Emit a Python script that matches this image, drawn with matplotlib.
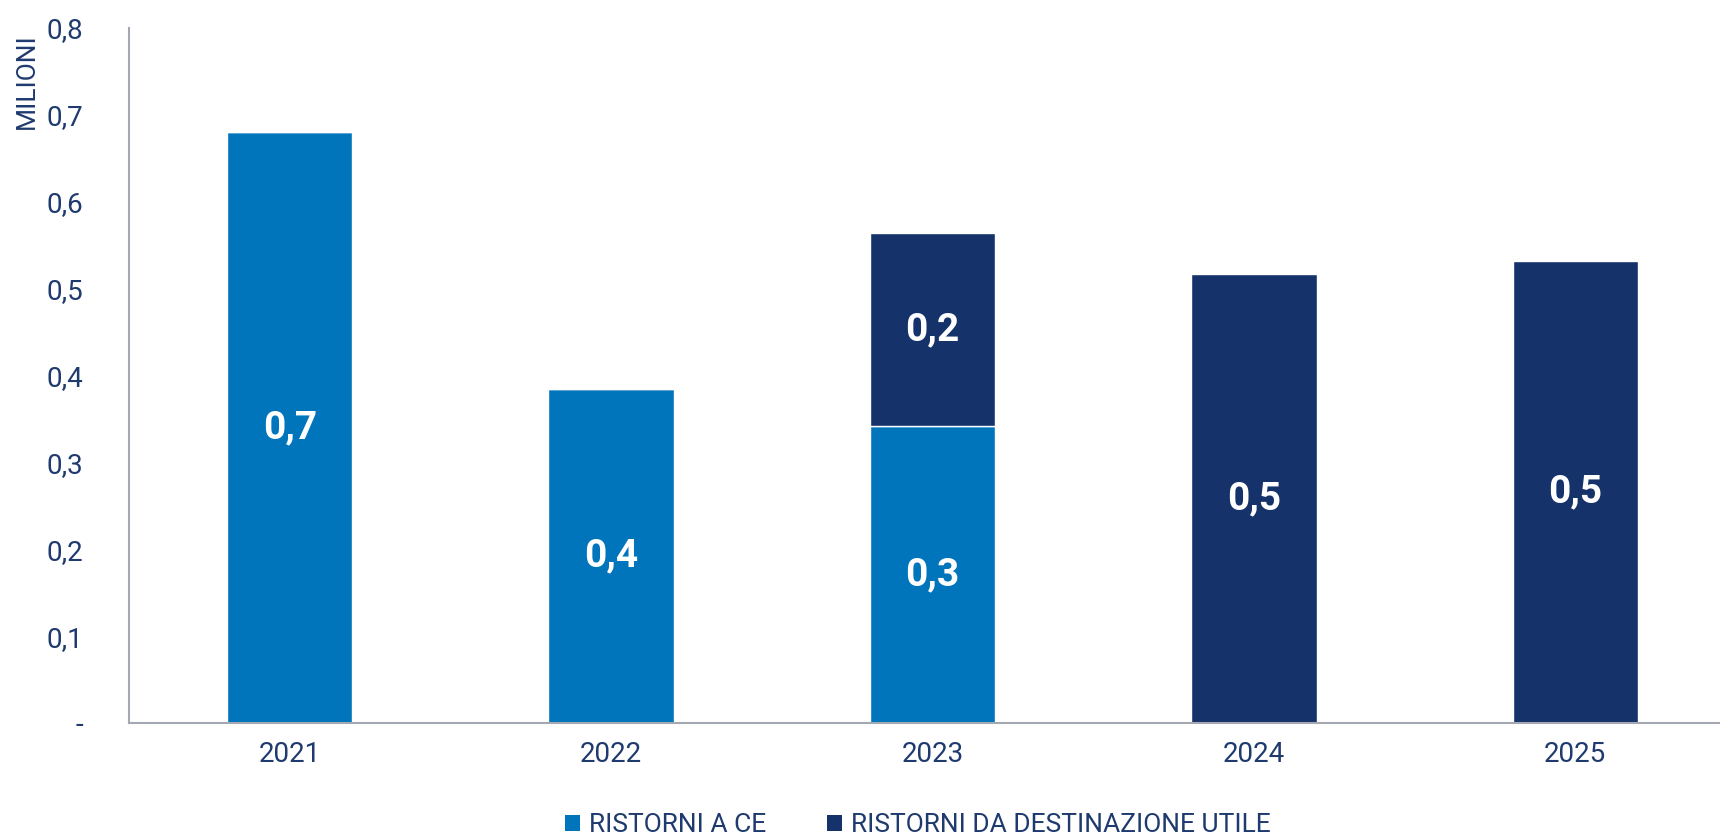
import matplotlib
matplotlib.use("Agg")
import matplotlib.pyplot as plt
from matplotlib.patches import Patch

years = ["2021", "2022", "2023", "2024", "2025"]
ristorni_ce = [0.680, 0.384, 0.342, 0.0, 0.0]
ristorni_utile = [0.0, 0.0, 0.222, 0.517, 0.532]
yticks = [0, 0.1, 0.2, 0.3, 0.4, 0.5, 0.6, 0.7, 0.8]
ytick_labels = ["-", "0,1", "0,2", "0,3", "0,4", "0,5", "0,6", "0,7", "0,8"]
series_names = ["RISTORNI A CE", "RISTORNI DA DESTINAZIONE UTILE"]

c_light = "#0075BC"
c_dark = "#15326A"
c_text = "#1F3A6E"
c_axis = "#A3A8B2"

plt.rcParams['font.family'] = ['Roboto', 'DejaVu Sans']

W, H = 1720, 839
fig = plt.figure(figsize=(W / 100, H / 100), dpi=100)
ax = fig.add_axes([129 / W, 1 - 723 / H, (1736 - 129) / W, (723 - 28) / H])

x = list(range(len(years)))
bw = 0.39
ax.bar(x, ristorni_ce, bw, color=c_light, edgecolor="white", linewidth=1.0)
ax.bar(x, ristorni_utile, bw, bottom=ristorni_ce, color=c_dark, edgecolor="white", linewidth=1.0)


def fmt(v):
    return f"{v:.1f}".replace(".", ",")


for i in x:
    if ristorni_ce[i] > 0:
        ax.text(i, ristorni_ce[i] / 2, fmt(ristorni_ce[i]), ha="center", va="center",
                color="white", fontsize=28, fontweight="bold")
    if ristorni_utile[i] > 0:
        ax.text(i, ristorni_ce[i] + ristorni_utile[i] / 2, fmt(ristorni_utile[i]),
                ha="center", va="center", color="white", fontsize=28, fontweight="bold")

ax.set_xlim(-0.5, len(years) - 0.5)
ax.set_ylim(0, 0.8)
ax.set_yticks(yticks)
ax.set_yticklabels(ytick_labels)
ax.set_xticks(x)
ax.set_xticklabels(years)
ax.tick_params(axis="y", length=0, pad=33, labelsize=20, labelcolor=c_text)
ax.tick_params(axis="x", length=0, pad=13, labelsize=20, labelcolor=c_text)
for s in ["top", "right"]:
    ax.spines[s].set_visible(False)
for s in ["left", "bottom"]:
    ax.spines[s].set_color(c_axis)
    ax.spines[s].set_linewidth(1.5)

fig.text(27 / W, 1 - 33 / H, "MILIONI", rotation=90, ha="center", va="top",
         fontsize=19, color=c_text)

handles = [Patch(facecolor=c_light), Patch(facecolor=c_dark)]
fig.legend(handles, series_names, loc="center", bbox_to_anchor=(918 / W, 1 - 825 / H),
           ncol=2, frameon=False, fontsize=19, labelcolor=c_text,
           handlelength=0.55, handleheight=0.55, handletextpad=0.35, columnspacing=2.3)

fig.savefig("out.png", dpi=100)
